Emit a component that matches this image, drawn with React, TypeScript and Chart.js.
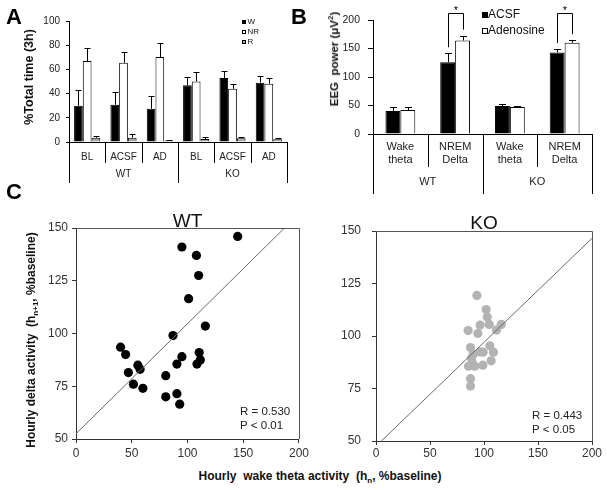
import React, { useEffect, useRef } from "react";
import { Chart, registerables } from "chart.js";

Chart.register(...registerables);

const FONT = "'Liberation Sans', Arial, Helvetica, sans-serif";
const NARROW = "'Liberation Sans Narrow', 'Arial Narrow', 'Liberation Sans', Arial, sans-serif";

// ---------- Panel A: % total time (3h) ----------
const sleepCategories = ["BL", "ACSF", "AD", "BL", "ACSF", "AD"];
const sleepGroups = ["WT", "KO"];
const sleepSeries = ["W", "NR", "R"];
const wakeTime = [30, 30.8, 27.5, 46.8, 52.9, 49];
const wakeTimeErr = [12.7, 10.2, 10.5, 6.9, 6.1, 5.5];
const nremTime = [67, 65.5, 70.2, 50.1, 44, 48.2];
const nremTimeErr = [11, 9.1, 11.8, 7.5, 4.2, 4.7];
const remTime = [3.5, 3.5, 1.2, 2.5, 3, 2.2];
const remTimeErr = [1.5, 2.8, 0.5, 1.5, 1.5, 1.3];
const sleepTicks = [0, 20, 40, 60, 80, 100];

// ---------- Panel B: EEG power ----------
const eegCategories = [["Wake", "theta"], ["NREM", "Delta"], ["Wake", "theta"], ["NREM", "Delta"]];
const eegGroups = ["WT", "KO"];
const eegSeries = ["ACSF", "Adenosine"];
const acsfPower = [40.4, 125.8, 49, 143];
const acsfPowerErr = [6.4, 15.8, 3, 6];
const adenosinePower = [42, 164, 47.4, 160];
const adenosinePowerErr = [4.8, 8.5, 1.2, 4.5];
const significantCategories = [1, 3];
const powerTicks = [0, 50, 100, 150, 200];

// ---------- Panel C: scatter ----------
const wtWakeTheta = [145, 95, 108, 110, 101, 116, 87, 40, 44.5, 95, 110.5, 111.5, 108.5, 90.5, 55.5, 57.5, 47, 80.5, 51.5, 60, 80.5, 90.5, 93];
const wtDelta = [146, 141, 137, 127.5, 116.5, 103.5, 99, 93.5, 90, 89, 91, 87.5, 85.5, 85.5, 85, 83, 81.5, 80, 76, 74, 70, 71.5, 66.5];
const koWakeTheta = [93.4, 102, 103, 96.4, 104.8, 116, 111.6, 85.3, 94.3, 87.5, 105.4, 96.4, 99.2, 108.8, 90, 88.4, 106.6, 89.3, 85.6, 91.5, 98.9, 87.5, 87.5];
const koDelta = [119.3, 112.6, 109.1, 105.2, 105.5, 105.5, 102.8, 102.6, 101.2, 94.5, 95.3, 92.4, 92.3, 92.3, 91.3, 89.4, 88.2, 87.2, 85.6, 85.6, 86.1, 79.7, 76.2];
const wtFitX = [0, 187];
const wtFitY = [52.5, 150];
const koFitX = [5, 200];
const koFitY = [50, 146.5];
const wtStats = ["R = 0.530", "P < 0.01"];
const koStats = ["R = 0.443", "P < 0.05"];
const scatterXTicks = [0, 50, 100, 150, 200];
const scatterYTicks = [50, 75, 100, 125, 150];

const zip = (xs: number[], ys: number[]) => xs.map((x, i) => ({ x, y: ys[i] }));

// ---------- plugins ----------
const errorBarPlugin = (cap: number) => ({
  id: "errorBars",
  afterDatasetsDraw(chart: any) {
    const ctx = chart.ctx;
    const y = chart.scales.y;
    ctx.save();
    ctx.strokeStyle = "#000";
    ctx.lineWidth = 1;
    chart.data.datasets.forEach((ds: any, di: number) => {
      const errs = ds.errorBars;
      if (!errs) return;
      chart.getDatasetMeta(di).data.forEach((el: any, j: number) => {
        const top = Math.round(y.getPixelForValue(ds.data[j] + errs[j])) + 0.5;
        const bx = Math.round(el.x) + 0.5;
        ctx.beginPath();
        ctx.moveTo(bx, el.y);
        ctx.lineTo(bx, top);
        ctx.moveTo(bx - cap / 2, top);
        ctx.lineTo(bx + cap / 2, top);
        ctx.stroke();
      });
    });
    ctx.restore();
  },
});

const groupAxisPlugin = (cfg: any) => ({
  id: "groupAxis",
  afterDraw(chart: any) {
    const ctx = chart.ctx;
    const x = chart.scales.x;
    const n = chart.data.labels.length;
    const step = x.getPixelForValue(1) - x.getPixelForValue(0);
    const start = x.getPixelForValue(0) - step / 2;
    const base = chart.chartArea.bottom;
    ctx.save();
    ctx.strokeStyle = "#000";
    ctx.lineWidth = 1;
    for (let i = 0; i <= n; i++) {
      const px = Math.round(start + i * step) + 0.5;
      const len = i % cfg.perGroup === 0 ? cfg.outerLen : cfg.innerLen;
      ctx.beginPath();
      ctx.moveTo(px, base);
      ctx.lineTo(px, base + len);
      ctx.stroke();
    }
    ctx.fillStyle = "#222";
    ctx.font = cfg.font;
    ctx.textAlign = "center";
    ctx.textBaseline = "middle";
    cfg.groups.forEach((g: string, gi: number) => {
      const c = start + (gi * cfg.perGroup + cfg.perGroup / 2) * step;
      ctx.fillText(g, c, base + cfg.labelY);
    });
    ctx.restore();
  },
});

const boxLegendPlugin = (cfg: any) => ({
  id: "boxLegend",
  afterDraw(chart: any) {
    const ctx = chart.ctx;
    ctx.save();
    ctx.font = cfg.font;
    ctx.textBaseline = "middle";
    ctx.textAlign = "left";
    chart.data.datasets.forEach((ds: any, i: number) => {
      const cy = cfg.y + i * cfg.gap;
      const bx = cfg.x;
      const by = Math.round(cy - cfg.box / 2);
      ctx.fillStyle = ds.backgroundColor;
      ctx.fillRect(bx, by, cfg.box, cfg.box);
      ctx.strokeStyle = "#000";
      ctx.lineWidth = 1;
      ctx.strokeRect(bx + 0.5, by + 0.5, cfg.box - 1, cfg.box - 1);
      ctx.fillStyle = "#111";
      ctx.fillText(ds.label, cfg.textX, cy);
    });
    ctx.restore();
  },
});

const bracketPlugin = {
  id: "brackets",
  afterDraw(chart: any) {
    const ctx = chart.ctx;
    const y = chart.scales.y;
    const top = Math.round(chart.chartArea.top - 7) + 0.5;
    ctx.save();
    ctx.strokeStyle = "#000";
    ctx.lineWidth = 1;
    ctx.fillStyle = "#000";
    ctx.font = `11px ${FONT}`;
    ctx.textAlign = "center";
    ctx.textBaseline = "alphabetic";
    significantCategories.forEach((ci) => {
      const a = chart.getDatasetMeta(0).data[ci];
      const b = chart.getDatasetMeta(1).data[ci];
      const ax = Math.round(a.x) + 0.5;
      const bx = Math.round(b.x) + 0.5;
      const ya = y.getPixelForValue(acsfPower[ci] + acsfPowerErr[ci]) - 6;
      const yb = y.getPixelForValue(adenosinePower[ci] + adenosinePowerErr[ci]) - 6;
      ctx.beginPath();
      ctx.moveTo(ax, ya);
      ctx.lineTo(ax, top);
      ctx.lineTo(bx, top);
      ctx.lineTo(bx, yb);
      ctx.stroke();
      ctx.fillText("*", (ax + bx) / 2, top + 0.5);
    });
    ctx.restore();
  },
};

const scatterDecorPlugin = (cfg: any) => ({
  id: "scatterDecor",
  afterDraw(chart: any) {
    const ctx = chart.ctx;
    const { left, right, top, bottom } = chart.chartArea;
    ctx.save();
    ctx.strokeStyle = "#555";
    ctx.lineWidth = 1;
    ctx.beginPath();
    ctx.moveTo(Math.round(left), Math.round(top) + 0.5);
    ctx.lineTo(Math.round(right) + 0.5, Math.round(top) + 0.5);
    ctx.lineTo(Math.round(right) + 0.5, Math.round(bottom));
    ctx.stroke();
    ctx.fillStyle = "#111";
    ctx.font = `19px ${FONT}`;
    ctx.textAlign = "center";
    ctx.textBaseline = "alphabetic";
    ctx.fillText(cfg.title, (left + right) / 2, top - cfg.titleGap);
    ctx.font = `11.5px ${FONT}`;
    ctx.textAlign = "left";
    ctx.fillStyle = "#222";
    ctx.textBaseline = "middle";
    cfg.stats.forEach((s: string, i: number) => {
      ctx.fillText(s, right - cfg.statsRight, bottom - cfg.statsBottom + i * 14);
    });
    ctx.restore();
  },
});

const tickFont = (size: number, family = FONT) => ({ size, family });

function sleepChart(canvas: HTMLCanvasElement) {
  const colors = ["#000000", "#ffffff", "#a6a6a6"];
  const values = [wakeTime, nremTime, remTime];
  const errs = [wakeTimeErr, nremTimeErr, remTimeErr];
  return new Chart(canvas, {
    type: "bar",
    data: {
      labels: sleepCategories,
      datasets: sleepSeries.map((s, i) => ({
        label: s,
        data: values[i],
        errorBars: errs[i],
        backgroundColor: colors[i],
        borderColor: "#000",
        borderWidth: 1,
        categoryPercentage: 0.72,
        barPercentage: 1,
      })) as any,
    },
    options: {
      responsive: false,
      animation: false,
      layout: { padding: { left: 0, right: 13, top: 21, bottom: 0 } },
      plugins: { legend: { display: false }, tooltip: { enabled: false } },
      scales: {
        x: {
          grid: { display: false, drawTicks: false },
          border: { display: true, color: "#000" },
          ticks: { font: tickFont(10), color: "#222", padding: 9 },
          afterFit: (s: any) => { s.height = 58; },
        },
        y: {
          min: 0,
          max: 100,
          afterBuildTicks: (s: any) => { s.ticks = sleepTicks.map((v) => ({ value: v })); },
          ticks: { font: tickFont(10), color: "#222", padding: 6 },
          grid: { drawOnChartArea: false, drawTicks: true, tickLength: 3, color: "#000" },
          border: { color: "#000" },
          afterFit: (s: any) => { s.width = 69; },
        },
      },
    } as any,
    plugins: [
      errorBarPlugin(6),
      groupAxisPlugin({ groups: sleepGroups, perGroup: 3, innerLen: 21, outerLen: 41, labelY: 32, font: `10px ${FONT}` }),
      boxLegendPlugin({ x: 242, textX: 247.5, y: 21.5, gap: 10.2, box: 4, font: `8px ${FONT}` }),
    ] as any,
  });
}

function eegChart(canvas: HTMLCanvasElement) {
  const colors = ["#000000", "#ffffff"];
  const values = [acsfPower, adenosinePower];
  const errs = [acsfPowerErr, adenosinePowerErr];
  return new Chart(canvas, {
    type: "bar",
    data: {
      labels: eegCategories as any,
      datasets: eegSeries.map((s, i) => ({
        label: s,
        data: values[i],
        errorBars: errs[i],
        backgroundColor: colors[i],
        borderColor: "#000",
        borderWidth: 1,
        categoryPercentage: 0.545,
        barPercentage: 1,
      })) as any,
    },
    options: {
      responsive: false,
      animation: false,
      layout: { padding: { left: 0, right: 15, top: 20, bottom: 0 } },
      plugins: { legend: { display: false }, tooltip: { enabled: false } },
      scales: {
        x: {
          grid: { display: false, drawTicks: false },
          border: { display: true, color: "#000" },
          ticks: { font: { size: 11, family: FONT, lineHeight: 1.18 }, color: "#222", padding: 6.5 },
          afterFit: (s: any) => { s.height = 66; },
        },
        y: {
          min: 0,
          max: 200,
          afterBuildTicks: (s: any) => { s.ticks = powerTicks.map((v) => ({ value: v })); },
          ticks: { font: tickFont(10.5), color: "#222", padding: 8 },
          grid: { drawOnChartArea: false, drawTicks: true, tickLength: 5, color: "#000" },
          border: { color: "#000" },
          afterFit: (s: any) => { s.width = 73; },
        },
      },
    } as any,
    plugins: [
      errorBarPlugin(7),
      groupAxisPlugin({ groups: eegGroups, perGroup: 2, innerLen: 33, outerLen: 60, labelY: 48, font: `11px ${FONT}` }),
      boxLegendPlugin({ x: 182, textX: 188, y: 14.5, gap: 16.2, box: 6, font: `12px ${FONT}` }),
      bracketPlugin,
    ] as any,
  });
}

function scatterChart(canvas: HTMLCanvasElement, cfg: any) {
  return new Chart(canvas, {
    type: "scatter",
    data: {
      datasets: [
        {
          type: "line",
          label: "fit",
          data: zip(cfg.fitX, cfg.fitY),
          borderColor: "#6a6a6a",
          borderWidth: 1,
          pointRadius: 0,
          fill: false,
          order: 0,
        },
        {
          label: cfg.title,
          data: zip(cfg.xs, cfg.ys),
          backgroundColor: cfg.color,
          borderColor: cfg.color,
          borderWidth: 0,
          pointRadius: 4.6,
          order: 1,
        },
      ] as any,
    },
    options: {
      responsive: false,
      animation: false,
      layout: { padding: { left: 0, right: cfg.padRight, top: cfg.padTop, bottom: 0 } },
      plugins: { legend: { display: false }, tooltip: { enabled: false } },
      scales: {
        x: {
          type: "linear",
          min: 0,
          max: 200,
          afterBuildTicks: (s: any) => { s.ticks = scatterXTicks.map((v) => ({ value: v })); },
          ticks: { font: tickFont(12, NARROW), color: "#333", padding: cfg.xPad },
          grid: { drawOnChartArea: false, drawTicks: true, tickLength: 4, color: "#333" },
          border: { color: "#333" },
          afterFit: (s: any) => { s.height = cfg.xHeight; },
        },
        y: {
          type: "linear",
          min: 50,
          max: 150,
          afterBuildTicks: (s: any) => { s.ticks = scatterYTicks.map((v) => ({ value: v })); },
          ticks: { font: tickFont(12, NARROW), color: "#333", padding: cfg.yPad },
          grid: { drawOnChartArea: false, drawTicks: true, tickLength: 4, color: "#333" },
          border: { color: "#333" },
          afterFit: (s: any) => { s.width = 76; },
        },
      },
    } as any,
    plugins: [
      scatterDecorPlugin({
        title: cfg.title,
        titleGap: cfg.titleGap,
        stats: cfg.stats,
        statsRight: cfg.statsRight,
        statsBottom: cfg.statsBottom,
      }),
    ] as any,
  });
}

const abs = (o: any) => ({ position: "absolute" as const, ...o });

export default function App() {
  const aRef = useRef<HTMLCanvasElement>(null);
  const bRef = useRef<HTMLCanvasElement>(null);
  const wtRef = useRef<HTMLCanvasElement>(null);
  const koRef = useRef<HTMLCanvasElement>(null);

  useEffect(() => {
    document.body.style.margin = "0";
    Chart.defaults.font.family = FONT;
    const charts = [
      sleepChart(aRef.current!),
      eegChart(bRef.current!),
      scatterChart(wtRef.current!, {
        title: "WT", xs: wtWakeTheta, ys: wtDelta, fitX: wtFitX, fitY: wtFitY, color: "#000000",
        padRight: 13, padTop: 28, xHeight: 21, xPad: 3, yPad: 4, titleGap: 1.5,
        stats: wtStats, statsRight: 59, statsBottom: 27,
      }),
      scatterChart(koRef.current!, {
        title: "KO", xs: koWakeTheta, ys: koDelta, fitX: koFitX, fitY: koFitY, color: "#b3b3b3",
        padRight: 15, padTop: 31, xHeight: 19, xPad: 1, yPad: 11, titleGap: 2.5,
        stats: koStats, statsRight: 60, statsBottom: 25,
      }),
    ];
    return () => charts.forEach((c) => c.destroy());
  }, []);

  const letter = { fontFamily: FONT, fontWeight: 700, fontSize: 22, lineHeight: "22px", color: "#000" };
  const bold12 = { fontFamily: FONT, fontWeight: 700, fontSize: 12, color: "#111", whiteSpace: "nowrap" as const };

  return (
    <div style={{ position: "fixed", left: 0, top: 0, width: 607, height: 490, background: "#fff", overflow: "hidden" }}>
      <canvas ref={aRef} width={300} height={200} style={abs({ left: 0, top: 0, width: 300, height: 200 })} />
      <canvas ref={bRef} width={307} height={200} style={abs({ left: 300, top: 0, width: 307, height: 200 })} />
      <canvas ref={wtRef} width={312} height={260} style={abs({ left: 0, top: 200, width: 312, height: 260 })} />
      <canvas ref={koRef} width={307} height={260} style={abs({ left: 300, top: 200, width: 307, height: 260 })} />

      <div style={abs({ ...letter, left: 6, top: 6 })}>A</div>
      <div style={abs({ ...letter, left: 291, top: 6 })}>B</div>
      <div style={abs({ ...letter, left: 6, top: 181 })}>C</div>

      <div style={abs({ ...bold12, fontSize: 12.5, left: 29, top: 77, transform: "translate(-50%, -50%) rotate(-90deg)" })}>
        %Total time (3h)
      </div>
      <div style={abs({ ...bold12, fontSize: 11.5, left: 333, top: 59, transform: "translate(-50%, -50%) rotate(-90deg)" })}>
        EEG&nbsp; power (μV<sup style={{ fontSize: 8 }}>2</sup>)
      </div>
      <div style={abs({ ...bold12, left: 32, top: 340, transform: "translate(-50%, -50%) rotate(-90deg)" })}>
        Hourly delta activity&nbsp; (h<sub style={{ fontSize: 8 }}>n+1</sub>, %baseline)
      </div>
      <div style={abs({ ...bold12, left: 320, top: 477, transform: "translate(-50%, -50%)" })}>
        Hourly&nbsp; wake theta activity&nbsp; (h<sub style={{ fontSize: 8 }}>n</sub>, %baseline)
      </div>
    </div>
  );
}
